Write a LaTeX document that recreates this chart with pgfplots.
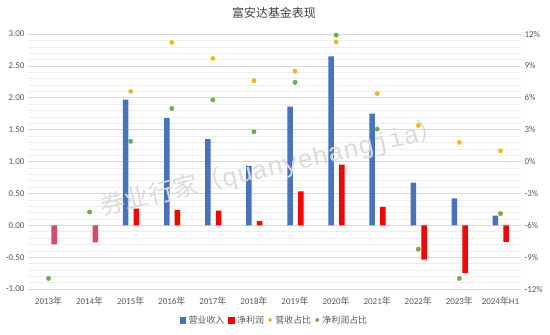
\documentclass[border=0pt]{standalone}
\usepackage{fontspec}
\setmainfont{Carlito}
\newfontfamily\cjk{Noto Sans CJK SC}
\newfontfamily\wmmono{Liberation Mono}
\usepackage{pgfplots}
\pgfplotsset{compat=1.18}
\definecolor{cblue}{HTML}{4472C4}
\definecolor{cred}{HTML}{FF0000}
\definecolor{cpink}{HTML}{DC4A6A}
\definecolor{cyellow}{HTML}{F2BA1C}
\definecolor{cgreen}{HTML}{70AD47}
\definecolor{tickgray}{HTML}{595959}
\definecolor{titlegray}{HTML}{404040}
\definecolor{gridgray}{HTML}{D9D9D9}
\definecolor{gridlight}{HTML}{EEEEEE}
\begin{document}
\begin{tikzpicture}[x=1bp,y=1bp]
\path[use as bounding box] (0,0) rectangle (550,334);
\begin{axis}[at={(28bp,45bp)}, anchor=south west, scale only axis,
  width=493bp, height=255bp,
  xmin=-0.5, xmax=11.5, ymin=-1, ymax=3,
  xtick={0,...,11},
  xticklabels={2013{\cjk 年},2014{\cjk 年},2015{\cjk 年},2016{\cjk 年},2017{\cjk 年},2018{\cjk 年},2019{\cjk 年},2020{\cjk 年},2021{\cjk 年},2022{\cjk 年},2023{\cjk 年},2024{\cjk 年}H1},
  ytick={-1,-0.5,0,0.5,1,1.5,2,2.5,3},
  minor y tick num=4,
  scaled y ticks=false,
  /pgf/number format/assume math mode=true,
  yticklabel style={/pgf/number format/fixed, /pgf/number format/fixed zerofill, /pgf/number format/precision=2},
  ymajorgrids, yminorgrids,
  major grid style={draw=gridgray, line width=0.6bp},
  minor grid style={draw=gridlight, line width=0.5bp},
  axis line style={draw=none}, tick style={draw=none},
  ticklabel style={font=\fontsize{9}{11}\selectfont, text=tickgray},
  ybar, bar width=5.5bp,
]
\addplot[ybar, bar shift=-5bp, fill=cblue, draw=none] coordinates {
(2,1.97)(3,1.68)(4,1.35)(5,0.93)(6,1.86)(7,2.65)(8,1.75)(9,0.67)(10,0.42)(11,0.15)};
\addplot[ybar, bar shift=5.7bp, fill=cred, draw=none] coordinates {
(2,0.26)(3,0.24)(4,0.23)(5,0.07)(6,0.53)(7,0.95)(8,0.29)(9,-0.54)(10,-0.75)(11,-0.26)};
\addplot[ybar, bar shift=5.7bp, fill=cpink, draw=none] coordinates {
(0,-0.30)(1,-0.27)};
\end{axis}
\node[rotate=13, text=gray!28, inner sep=0] at (272,166) {{\cjk\fontsize{25}{28}\selectfont 券业行家（}{\wmmono\fontsize{26}{28}\selectfont quanyehangjia}{\cjk\fontsize{25}{28}\selectfont ）}};
\begin{axis}[at={(28bp,45bp)}, anchor=south west, scale only axis,
  width=493bp, height=255bp,
  xmin=-0.5, xmax=11.5, ymin=-12, ymax=12,
  axis y line*=right, hide x axis,
  ytick={-12,-9,-6,-3,0,3,6,9,12},
  /pgf/number format/assume math mode=true,
  yticklabel={\pgfmathprintnumber{\tick}\%},
  axis line style={draw=none}, tick style={draw=none},
  ticklabel style={font=\fontsize{9}{11}\selectfont, text=tickgray},
  legend columns=4,
  legend style={at={(0.5,-0.122)}, anchor=center, draw=none, fill=none,
    font=\cjk\fontsize{9}{11}\selectfont, text=tickgray,
    /tikz/every odd column/.append style={column sep=1bp},
    /tikz/every even column/.append style={column sep=2bp}},
]
\addlegendimage{legend image code/.code={\fill[cblue] (0bp,-2.6bp) rectangle (5.4bp,2.8bp);}}
\addlegendentry{营业收入}
\addlegendimage{legend image code/.code={\fill[cred] (0bp,-2.6bp) rectangle (5.4bp,2.8bp);}}
\addlegendentry{净利润}
\addlegendimage{legend image code/.code={\fill[cyellow] (2.5bp,0.2bp) circle (1.9bp);}}
\addlegendentry{营收占比}
\addlegendimage{legend image code/.code={\fill[cgreen] (2.5bp,0.2bp) circle (1.9bp);}}
\addlegendentry{净利润占比}
\addplot[only marks, mark=*, mark size=2.2bp, color=cyellow, forget plot] coordinates {
(2,6.6)(3,11.2)(4,9.7)(5,7.6)(6,8.5)(7,11.25)(8,6.4)(9,3.4)(10,1.8)(11,1.0)};
\addplot[only marks, mark=*, mark size=2.2bp, color=cgreen, forget plot] coordinates {
(0,-11.0)(1,-4.75)(2,1.9)(3,5.0)(4,5.8)(5,2.8)(6,7.45)(7,11.9)(8,3.05)(9,-8.25)(10,-11.0)(11,-4.9)};
\end{axis}
\node[text=titlegray, font=\cjk\fontsize{12}{14}\selectfont] at (274,321) {富安达基金表现};
\end{tikzpicture}
\end{document}
